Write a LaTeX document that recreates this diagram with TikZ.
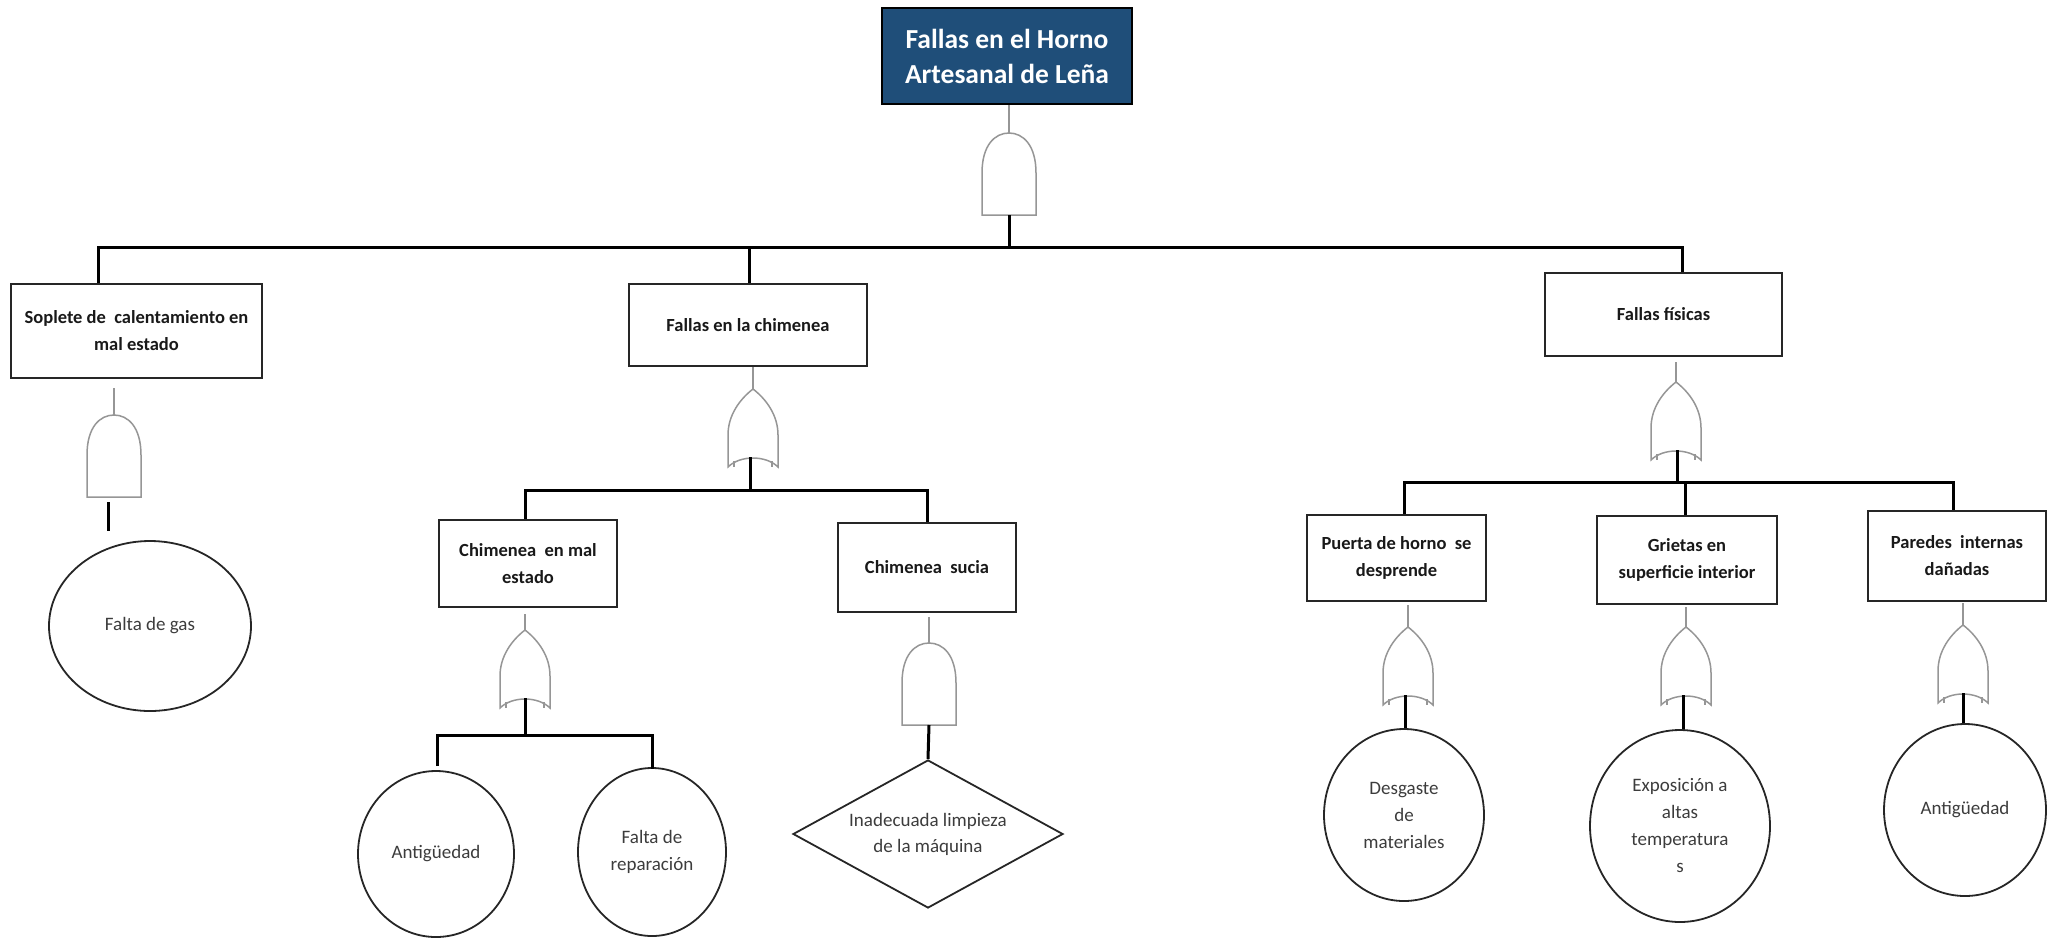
\documentclass[tikz,border=0pt]{standalone}
\usepackage{fontspec}
\setmainfont{Carlito}
\usetikzlibrary{shapes.geometric}
\definecolor{topblue}{RGB}{31,78,121}
\definecolor{gategray}{RGB}{150,150,150}
\definecolor{txtgray}{RGB}{60,60,60}
\begin{document}
\begin{tikzpicture}[x=1pt,y=-1pt,
  box/.style={draw=black!85, line width=2pt, fill=white, inner sep=0pt, align=center,
    font=\fontsize{18.5}{27}\selectfont\bfseries, text=black!90},
  topbox/.style={box, fill=topblue, draw=black, line width=2.5pt, text=white,
    font=\fontsize{27.5}{35}\selectfont\bfseries},
  event/.style={ellipse, draw=black!85, line width=1.8pt, inner sep=0pt, align=center,
    font=\fontsize{19}{27}\selectfont, text=txtgray},
  cond/.style={diamond, aspect=1.82, draw=black!85, line width=1.8pt, inner sep=0pt, align=center,
    font=\fontsize{19}{26}\selectfont, text=txtgray},
  conn/.style={line width=3pt, black},
  gstem/.style={line width=1.5pt, gategray},
  gatestyle/.style={line width=1.5pt, draw=gategray, fill=white},
  andgate/.pic={\draw[gatestyle] (-27,0) -- (-27,-42) .. controls (-27,-70) and (-14,-82) .. (0,-82)
      .. controls (14,-82) and (27,-70) .. (27,-42) -- (27,0) -- cycle;},
  orgate/.pic={\draw[gatestyle] (-25,0) -- (-25,-32) .. controls (-25,-52) and (-13,-68) .. (0,-78)
      .. controls (13,-68) and (25,-52) .. (25,-32) -- (25,0)
      .. controls (13,-12) and (-13,-12) .. (-25,0) -- cycle;
    \draw[gatestyle] (-19,-6) -- (-19,0) (19,-6) -- (19,0);}
]
\useasboundingbox (0,0) rectangle (2053,938);

% ---------- top event ----------
\node[topbox, minimum width=250, minimum height=96] (top) at (1007,56) {Fallas en el Horno\\Artesanal de Leña};
\pic at (1009,215) {andgate};
\coordinate (g0t) at (1009,133);
\coordinate (g0b) at (1009,215);
\draw[gstem] (top.south -| g0t) -- (g0t);

% ---------- level 1 ----------
\node[box, minimum width=251, minimum height=94] (b1) at (136.5,331) {Soplete de\ \ calentamiento en\\mal estado};
\node[box, minimum width=238, minimum height=82] (b2) at (748,325) {Fallas en la chimenea};
\node[box, minimum width=237, minimum height=83] (b5) at (1663.5,314.5) {Fallas físicas};

\coordinate (v1) at (98,247);
\coordinate (v2) at (749,247);
\coordinate (v5) at (1682,247);
\draw[conn] (v1 |- b1.north) -- (v1) -- (v5) -- (v5 |- b5.north);
\draw[conn] (v2) -- (v2 |- b2.north);
\draw[conn] (g0b) -- (g0b |- v1);

% ---------- branch 1: soplete ----------
\pic at (114,497) {andgate};
\coordinate (g1s) at (114,388);
\coordinate (g1t) at (114,415);
\draw[gstem] (g1s) -- (g1t);
\coordinate (g1b) at (108,502);
\coordinate (g1e) at (108,531);
\draw[conn] (g1b) -- (g1e);
\node[event, minimum width=202, minimum height=170] (e1) at (150,626) {Falta de gas};

% ---------- branch 2: chimenea ----------
\pic at (753,467) {orgate};
\coordinate (g2t) at (753,389);
\draw[gstem] (b2.south -| g2t) -- (g2t);
\coordinate (g2b) at (750,457);
\coordinate (w1) at (525,490);
\coordinate (w2) at (927,490);
\node[box, minimum width=178, minimum height=87] (b3) at (528,563.5) {Chimenea\ \ en mal\\estado};
\node[box, minimum width=178, minimum height=89] (b4) at (927,567.5) {Chimenea\ \ sucia};
\draw[conn] (w1 |- b3.north) -- (w1) -- (w2) -- (w2 |- b4.north);
\draw[conn] (g2b) -- (g2b |- w1);

% chimenea en mal estado
\pic at (525,708) {orgate};
\coordinate (g3s) at (525,614);
\coordinate (g3t) at (525,630);
\draw[gstem] (g3s) -- (g3t);
\coordinate (g3b) at (525,698);
\coordinate (x1) at (437,735);
\coordinate (x2) at (652,735);
\node[event, minimum width=156, minimum height=166] (e2) at (436,854) {Antigüedad};
\node[event, minimum width=148, minimum height=168] (e3) at (652,852) {Falta de\\reparación};
\draw[conn] (x1 |- e2.north) ++(0,-4) -- (x1) -- (x2) -- ([yshift=-2pt]x2 |- e3.north);
\draw[conn] (g3b) -- (g3b |- x1);

% chimenea sucia
\pic at (929,725) {andgate};
\coordinate (g4s) at (929,617);
\coordinate (g4t) at (929,643);
\draw[gstem] (g4s) -- (g4t);
\coordinate (g4b) at (929,725);
\node[cond, minimum width=270, minimum height=148] (d1) at (928,834) {Inadecuada limpieza\\de la máquina};
\draw[conn] (g4b) -- (d1.north);

% ---------- branch 3: fallas fisicas ----------
\pic at (1676,460) {orgate};
\coordinate (g5s) at (1676,362);
\coordinate (g5t) at (1676,382);
\draw[gstem] (g5s) -- (g5t);
\coordinate (g5b) at (1677,450);
\coordinate (y1) at (1404,482);
\coordinate (y2) at (1685,482);
\coordinate (y3) at (1953,482);
\node[box, minimum width=179, minimum height=86] (b6) at (1396.5,558) {Puerta de horno\ \ se\\desprende};
\node[box, minimum width=180, minimum height=88] (b7) at (1687,560) {Grietas en\\superficie interior};
\node[box, minimum width=178, minimum height=90] (b8) at (1957,556) {Paredes\ \ internas\\dañadas};
\draw[conn] (y1 |- b6.north) -- (y1) -- (y3) -- (y3 |- b8.north);
\draw[conn] (y2) -- (y2 |- b7.north);
\draw[conn] (g5b) -- (g5b |- y1);

% gate 6
\pic at (1408,705) {orgate};
\coordinate (g6s) at (1408,605);
\coordinate (g6t) at (1408,627);
\draw[gstem] (g6s) -- (g6t);
\coordinate (g6b) at (1405,695);
\node[event, minimum width=160, minimum height=172] (e6) at (1404,815) {Desgaste\\de\\materiales};
\draw[conn] (g6b) -- (g6b |- e6.north);

% gate 7
\pic at (1686,705) {orgate};
\coordinate (g7s) at (1686,607);
\coordinate (g7t) at (1686,627);
\draw[gstem] (g7s) -- (g7t);
\coordinate (g7b) at (1683,695);
\node[event, minimum width=180, minimum height=192] (e7) at (1680,826) {Exposición a\\altas\\temperatura\\s};
\draw[conn] (g7b) -- (g7b |- e7.north);

% gate 8
\pic at (1963,703) {orgate};
\coordinate (g8s) at (1963,603);
\coordinate (g8t) at (1963,625);
\draw[gstem] (g8s) -- (g8t);
\coordinate (g8b) at (1963,693);
\node[event, minimum width=162, minimum height=172] (e8) at (1965,810) {Antigüedad};
\draw[conn] (g8b) -- (g8b |- e8.north);
\end{tikzpicture}
\end{document}
